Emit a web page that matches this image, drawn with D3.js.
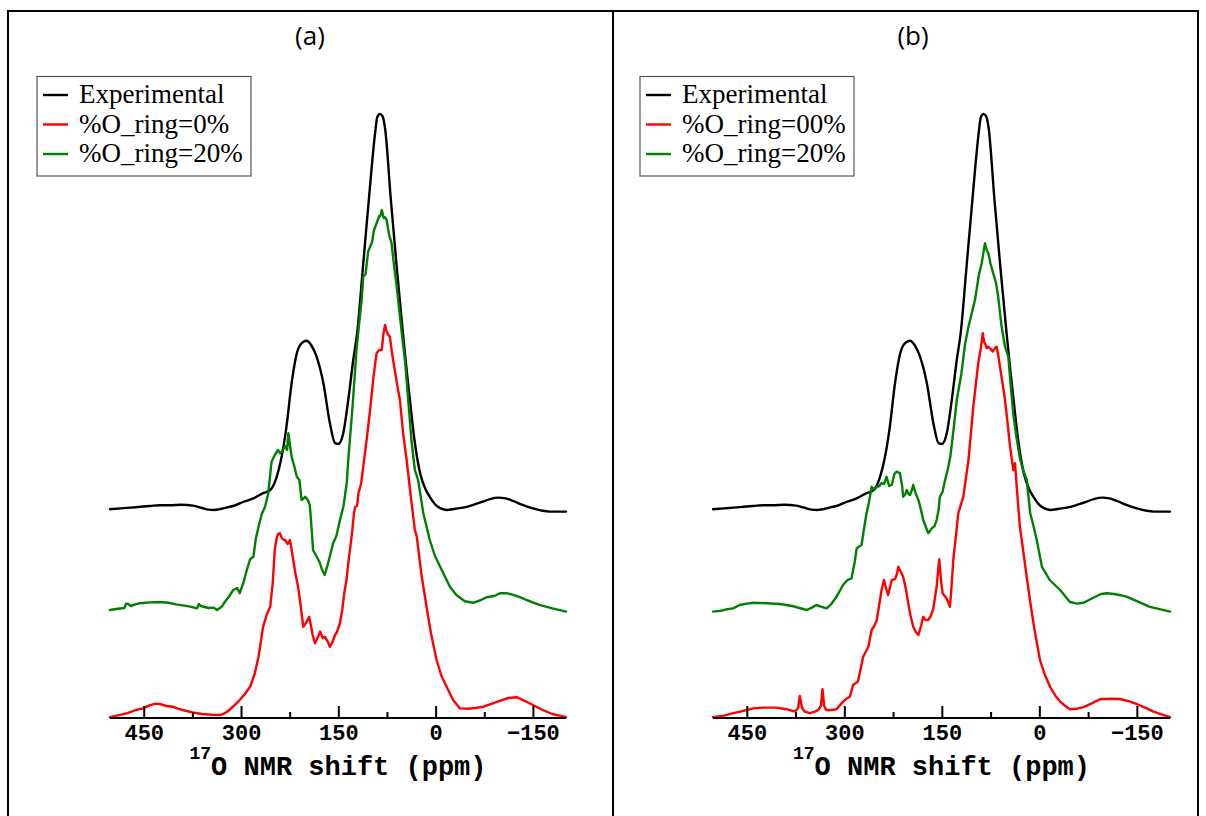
<!DOCTYPE html>
<html>
<head>
<meta charset="utf-8">
<script src="https://cdn.jsdelivr.net/npm/d3@7"></script>
<style>
  html, body { margin: 0; padding: 0; background: #fff; }
  svg { display: block; }
</style>
</head>
<body>
<svg id="chart" width="1206" height="816"></svg>
<script>
// ---------------- DATA ----------------
const panelTitles = ["(a)", "(b)"];
const legendLabelsA = ["Experimental", "%O_ring=0%", "%O_ring=20%"];
const legendLabelsB = ["Experimental", "%O_ring=00%", "%O_ring=20%"];
const ppmDomain = [502, -201];
const majorTicks = [450, 300, 150, 0, -150];
const minorTicks = [375, 225, 75, -75];
const axisTitleSup = "17";
const axisTitleMain = "O NMR shift (ppm)";
// vertical stacking offsets (intensity units) : experimental, 20%, 0%
const stackOffsets = { experimental: 52, ring20: 27, ring0: 0 };

// [ppm, intensity]
const experimental = [
  [502,0.2],[485,0.4],[470,0.6],[455,0.8],[440,1.0],[425,1.2],[410,1.2],[392,1.3],[374,1.1],[360,0.5],[350,0.1],[343,0],
  [330,0.3],[320,0.7],[312,1.0],[297,2],[281,2.9],[266,4.2],[255,5],[245,8.3],[237.4,13.3],[230,20.8],[222,31.7],
  [214,39.2],[206,41.8],[199,42.3],[191,41],[183.4,38.3],[173,31.7],[163,21.7],[155,16.7],[150,16.5],[142.4,19.2],
  [134.7,27.5],[127,37.5],[121,44.2],[112,60.8],[103,77.5],[93.3,94.2],[90,98.2],[86,99],[82,98.5],[78,95.5],
  [69,77.5],[60,60.8],[50.4,44.2],[44,34],[39.6,27.5],[33,18],[24,9.25],[15,5],[9,3.3],[0,1.3],[-8,0.4],[-17,0],
  [-30,0.3],[-48,0.8],[-60,1.4],[-73,2.1],[-85,2.8],[-96.5,3.1],[-108,2.9],[-119.6,2.25],[-135,1.2],[-150,0.4],
  [-165,-0.2],[-176,-0.4],[-201,-0.4]
];

const ring0A = [
  [502,0.2],[488,0.7],[475,1.2],[462,2.0],[451,2.4],[440,3.2],[432,3.6],[425,3.5],[415,3.0],[405,2.8],[395,2.2],[384,1.75],
  [372,1.3],[360,1.0],[345,0.8],[332,0.75],[325,1.2],[318,2],[310,3.2],[302,4.5],[294,6],[286,7.8],[279,11],[273,15.3],
  [266,22.8],[260,26],[255,27.8],[251,34],[248,42],[245,45],[243,46],[240,46.2],[237,45],[234,44.5],[232,44.5],
  [228,43.5],[224.6,44.5],[222,42],[219.5,39.5],[216,36],[212,32.8],[208,28],[204,22.8],[199,24],[195,25.3],
  [192,23],[190,21],[186,18.7],[182,20],[178,21.6],[174,20],[170.6,20.3],[166,19],[163,17.8],[159,19],[155,20.75],
  [152,21.5],[147.5,23.7],[144,27],[141,31],[137,35],[134.7,38.7],[129,46],[126,51],[124,52.8],[121,53],[119,56.2],
  [115,58.5],[111.6,62.8],[106,70],[101,77],[96,85],[91,91.2],[87,92],[83,92],[80.5,96],[78,98.25],[76,97],[74,96],
  [70.5,95.3],[67,91],[63,87],[59,83],[55,79.5],[50,71],[44.7,64.5],[38,55],[32,47],[29,45.3],[22,36],[14,27.8],
  [7,21],[-1.5,14.5],[-9,10.5],[-17,7.8],[-27,4.5],[-37.5,2.4],[-50,2.3],[-62,2.5],[-73,2.8],[-87,3.6],[-99,4.3],
  [-112,5],[-125,5.2],[-137,4.3],[-150,3.25],[-165,2],[-180,1],[-201,0.2]
];

const ring20A = [
  [502,0],[490,0.3],[480,0.5],[477,1.6],[474,1.5],[470,1.0],[463,1.4],[456,1.7],[440,1.9],[425,2],[412,1.8],[400,1.4],
  [380,0.9],[368,0.4],[365,1.5],[362,1.0],[350,0.5],[342,0.6],[337,0],[330,0.8],[325,2],[318,3.5],[312,5],[306,5.5],
  [302,4.2],[296,7],[291,10],[286,12.7],[281,13.3],[277,18],[273,20.8],[268,24],[263,25.8],[258,29.2],[253,37],
  [248,38.75],[243,40],[240,39.2],[237,39.6],[232,41],[229,40],[227,44.2],[224,40.5],[222,38.3],[218,36],[214,33.3],
  [210,32.5],[206.6,27.5],[203,28],[201,28.3],[197,27.5],[194,26.25],[191,20],[189,15],[184,13.5],[179,12],
  [175,10],[171,8.75],[167,11],[163,13.5],[158,16.7],[153,18.5],[147.5,22.5],[142,26],[137,31.7],[134.7,37.5],
  [128,51],[122,65],[117,73],[114,77.5],[111.6,83.3],[108,84],[104,89.6],[98,92],[95,95],[91,96.7],[87,98.5],
  [85,98.5],[83,100],[80,98],[78,98.2],[75.5,97.5],[72,94],[68,91.7],[64,86],[60,80.8],[56,75],[52,69],[47,62],
  [42,52],[37,42],[32,35],[27,32.5],[19,24.2],[9,17.5],[1,13.5],[-7,10.8],[-22,5.8],[-32,3.75],[-45,2.2],[-58,1.8],
  [-70,2.5],[-79,3.2],[-90,3.5],[-100,4.2],[-109,4.2],[-120,3.8],[-130,3.2],[-140,2.5],[-160,1.3],[-180,0.4],[-201,-0.4]
];

const ring0B = [
  [502,0.2],[485,0.6],[471,1.2],[460,1.6],[450.6,2],[440,2.4],[425,2.6],[405,2.6],[389,2.2],[376,1.6],[371,2.5],
  [368.5,5.5],[365,2.5],[361,1.6],[353,1.2],[345,1.6],[340,2],[336,3],[333.6,7.2],[331,3],[328,2],[320,2],[312,2.2],
  [302,4.1],[297,4.8],[291.5,5.3],[286.5,8.25],[279,9.1],[271,15.3],[263,17.8],[258,22],[254,23],[250,24.5],
  [242.7,32],[239,34.5],[235,32],[232.6,30.75],[227,34.5],[222,34.7],[219,36],[217,37.8],[213,36.5],[209.5,35.3],
  [205,32],[201.7,28.7],[198,25.5],[194,22.8],[190,21.5],[186,20.75],[182,23],[178.6,25.3],[175,24.5],[171,24.5],
  [167,25.5],[163,27.4],[158,32.8],[154,39.7],[151,34],[148.8,31.2],[142.6,29.9],[137.5,27.8],[135,33],[132.4,39.5],
  [128,46],[124.7,51.2],[117,55.3],[109,64.5],[101.6,77.8],[94,88.7],[90,92.5],[87,96.2],[85,94],[83.6,93.7],
  [81,92.5],[78.5,92.8],[75,92.3],[71.8,91.6],[68,92.5],[65.6,92.8],[63,90.5],[60.5,87.8],[56,83],[52.8,79.5],
  [49,74],[45,67.8],[40,62],[37.4,63.7],[34.8,57.8],[30,48],[25,42],[19.4,35.3],[14,29],[9,23.7],[4,19],[-1,14.5],
  [-8,11],[-16.5,7.8],[-25,5.5],[-32,4.1],[-40,3],[-47,2.2],[-57,2.3],[-68,2.7],[-80,3.6],[-93.5,4.7],[-110,4.8],
  [-124,4.75],[-137,4.2],[-150,3.5],[-165,2.4],[-175.6,1.6],[-190,0.8],[-201,0.2]
];

const ring20B = [
  [502,-0.4],[490,-0.2],[480,0.2],[471,0.4],[461,1.25],[450,1.6],[440,1.8],[420,1.7],[399,1.5],[380,1.0],[358,0],
  [350,0.6],[343,1.25],[335,0.8],[327,0.4],[320,1.5],[312,3.3],[302,6.25],[295,7.5],[289,7.9],[284,12],[281,15.4],
  [276,16],[273.5,16.25],[270,20],[266,24],[262,27],[258,30.8],[254,30],[250,30.8],[246,31],[243,31.7],[239,31.5],
  [235,33.3],[231,31],[227,31.25],[223,34],[219.6,34.6],[214.5,34.2],[211,31],[209.5,28.3],[206,29],[204,30],
  [201,29],[199,28.75],[196,30],[194,31.25],[190,29],[186,27.5],[182,25],[178.6,22.5],[174,20.5],[171,19.2],
  [168,19.8],[165.7,20.4],[161,21],[158,22.5],[155,25],[153,28.3],[149,29.5],[145,32.5],[141,35],[137,38.3],
  [132,45],[127,52.5],[120,59],[114,66.7],[109,70.8],[104,74.2],[99,77.5],[93,83.75],[88.7,86.7],[83.6,91.7],
  [81,90],[78.5,89.2],[75,86.5],[71,84.2],[67,82],[64,79.2],[58,70.8],[53,66],[47.7,63.3],[44,56],[40,49],[35,43],
  [30,38],[25,35],[19.4,32.5],[14,24.2],[9,21],[4,17.5],[-4,10.8],[-16,7.5],[-32,5],[-47,2],[-58,1.6],[-68,1.8],
  [-80,2.8],[-95,4],[-104,4.2],[-115,4],[-125,3.7],[-135,3.3],[-150,2.2],[-170,0.8],[-185,0.2],[-201,-0.4]
];

// ---------------- DRAWING ----------------
const svg = d3.select("#chart");
const colors = { experimental: "#000000", ring0: "#ff0000", ring20: "#008000" };

// frame (table-like borders)
const frame = svg.append("g").attr("stroke", "#000").attr("stroke-width", 2);
frame.append("line").attr("x1", 7).attr("x2", 1199).attr("y1", 11).attr("y2", 11);
frame.append("line").attr("x1", 8).attr("x2", 8).attr("y1", 10).attr("y2", 816);
frame.append("line").attr("x1", 613).attr("x2", 613).attr("y1", 10).attr("y2", 816);
frame.append("line").attr("x1", 1198).attr("x2", 1198).attr("y1", 10).attr("y2", 816);

const panels = [
  { title: panelTitles[0], legend: legendLabelsA, left: 110, right: 566, titleX: 310, ring0: ring0A, ring20: ring20A },
  { title: panelTitles[1], legend: legendLabelsB, left: 713, right: 1170, titleX: 913, ring0: ring0B, ring20: ring20B }
];

const axisY = 718;
const y = d3.scaleLinear().domain([0, 151]).range([axisY, 114]);

panels.forEach(p => {
  const g = svg.append("g");
  const x = d3.scaleLinear().domain(ppmDomain).range([p.left, p.right]);

  // title
  g.append("text")
    .attr("x", p.titleX).attr("y", 45)
    .attr("text-anchor", "middle")
    .attr("font-family", "'Open Sans', 'Liberation Sans', sans-serif")
    .attr("font-size", 26)
    .attr("fill", "#000")
    .text(p.title);

  // curves
  const series = [
    { key: "experimental", data: experimental, curve: d3.curveMonotoneX },
    { key: "ring20", data: p.ring20, curve: d3.curveLinear },
    { key: "ring0", data: p.ring0, curve: d3.curveLinear }
  ];
  series.forEach(s => {
    const off = stackOffsets[s.key];
    const line = d3.line()
      .x(d => x(d[0]))
      .y(d => y(d[1] + off))
      .curve(s.curve);
    g.append("path")
      .datum(s.data)
      .attr("fill", "none")
      .attr("stroke", colors[s.key])
      .attr("stroke-width", 2.4)
      .attr("stroke-linejoin", "round")
      .attr("stroke-linecap", "round")
      .attr("d", line);
  });

  // minor ticks
  const minorAxis = d3.axisBottom(x).tickValues(minorTicks).tickSize(-6).tickSizeOuter(0).tickFormat("");
  const gm = g.append("g").attr("transform", `translate(0,${axisY})`).call(minorAxis);
  gm.select(".domain").remove();
  gm.selectAll(".tick line").attr("stroke", "#000").attr("stroke-width", 2);

  // major axis
  const majorAxis = d3.axisBottom(x).tickValues(majorTicks).tickSize(-12).tickSizeOuter(0).tickPadding(6)
    .tickFormat(d => d < 0 ? "\u2212" + Math.abs(d) : String(d));
  const ga = g.append("g").attr("transform", `translate(0,${axisY})`).call(majorAxis);
  ga.select(".domain").attr("stroke", "#000").attr("stroke-width", 2.2)
    .attr("d", `M${p.left},0H${p.right}`);
  ga.selectAll(".tick line").attr("stroke", "#000").attr("stroke-width", 2);
  ga.selectAll(".tick text")
    .attr("font-family", "'Liberation Mono', 'Courier New', monospace")
    .attr("font-weight", "bold")
    .attr("font-size", 22)
    .attr("fill", "#000");

  // axis title with superscript
  const cx = (p.left + p.right) / 2;
  const t = g.append("text")
    .attr("x", cx).attr("y", 775)
    .attr("text-anchor", "middle")
    .attr("font-family", "'Liberation Mono', 'Courier New', monospace")
    .attr("font-weight", "bold")
    .attr("fill", "#000");
  t.append("tspan").attr("font-size", 18).attr("dy", -16).text(axisTitleSup);
  t.append("tspan").attr("font-size", 27).attr("dy", 16).text(axisTitleMain);

  // legend
  const lx = p.left - 73;
  const lg = g.append("g");
  lg.append("rect")
    .attr("x", lx).attr("y", 76.5).attr("width", 214).attr("height", 99.5)
    .attr("fill", "#fff").attr("stroke", "#555").attr("stroke-width", 1.2);
  const keys = ["experimental", "ring0", "ring20"];
  const baselines = [103, 132.5, 162];
  keys.forEach((k, i) => {
    lg.append("line")
      .attr("x1", lx + 6).attr("x2", lx + 31)
      .attr("y1", baselines[i] - 8).attr("y2", baselines[i] - 8)
      .attr("stroke", colors[k]).attr("stroke-width", 2.4);
    lg.append("text")
      .attr("x", lx + 42).attr("y", baselines[i])
      .attr("font-family", "'Liberation Serif', 'Times New Roman', serif")
      .attr("font-size", 27)
      .attr("fill", "#000")
      .text(p.legend[i]);
  });
});
</script>
</body>
</html>
